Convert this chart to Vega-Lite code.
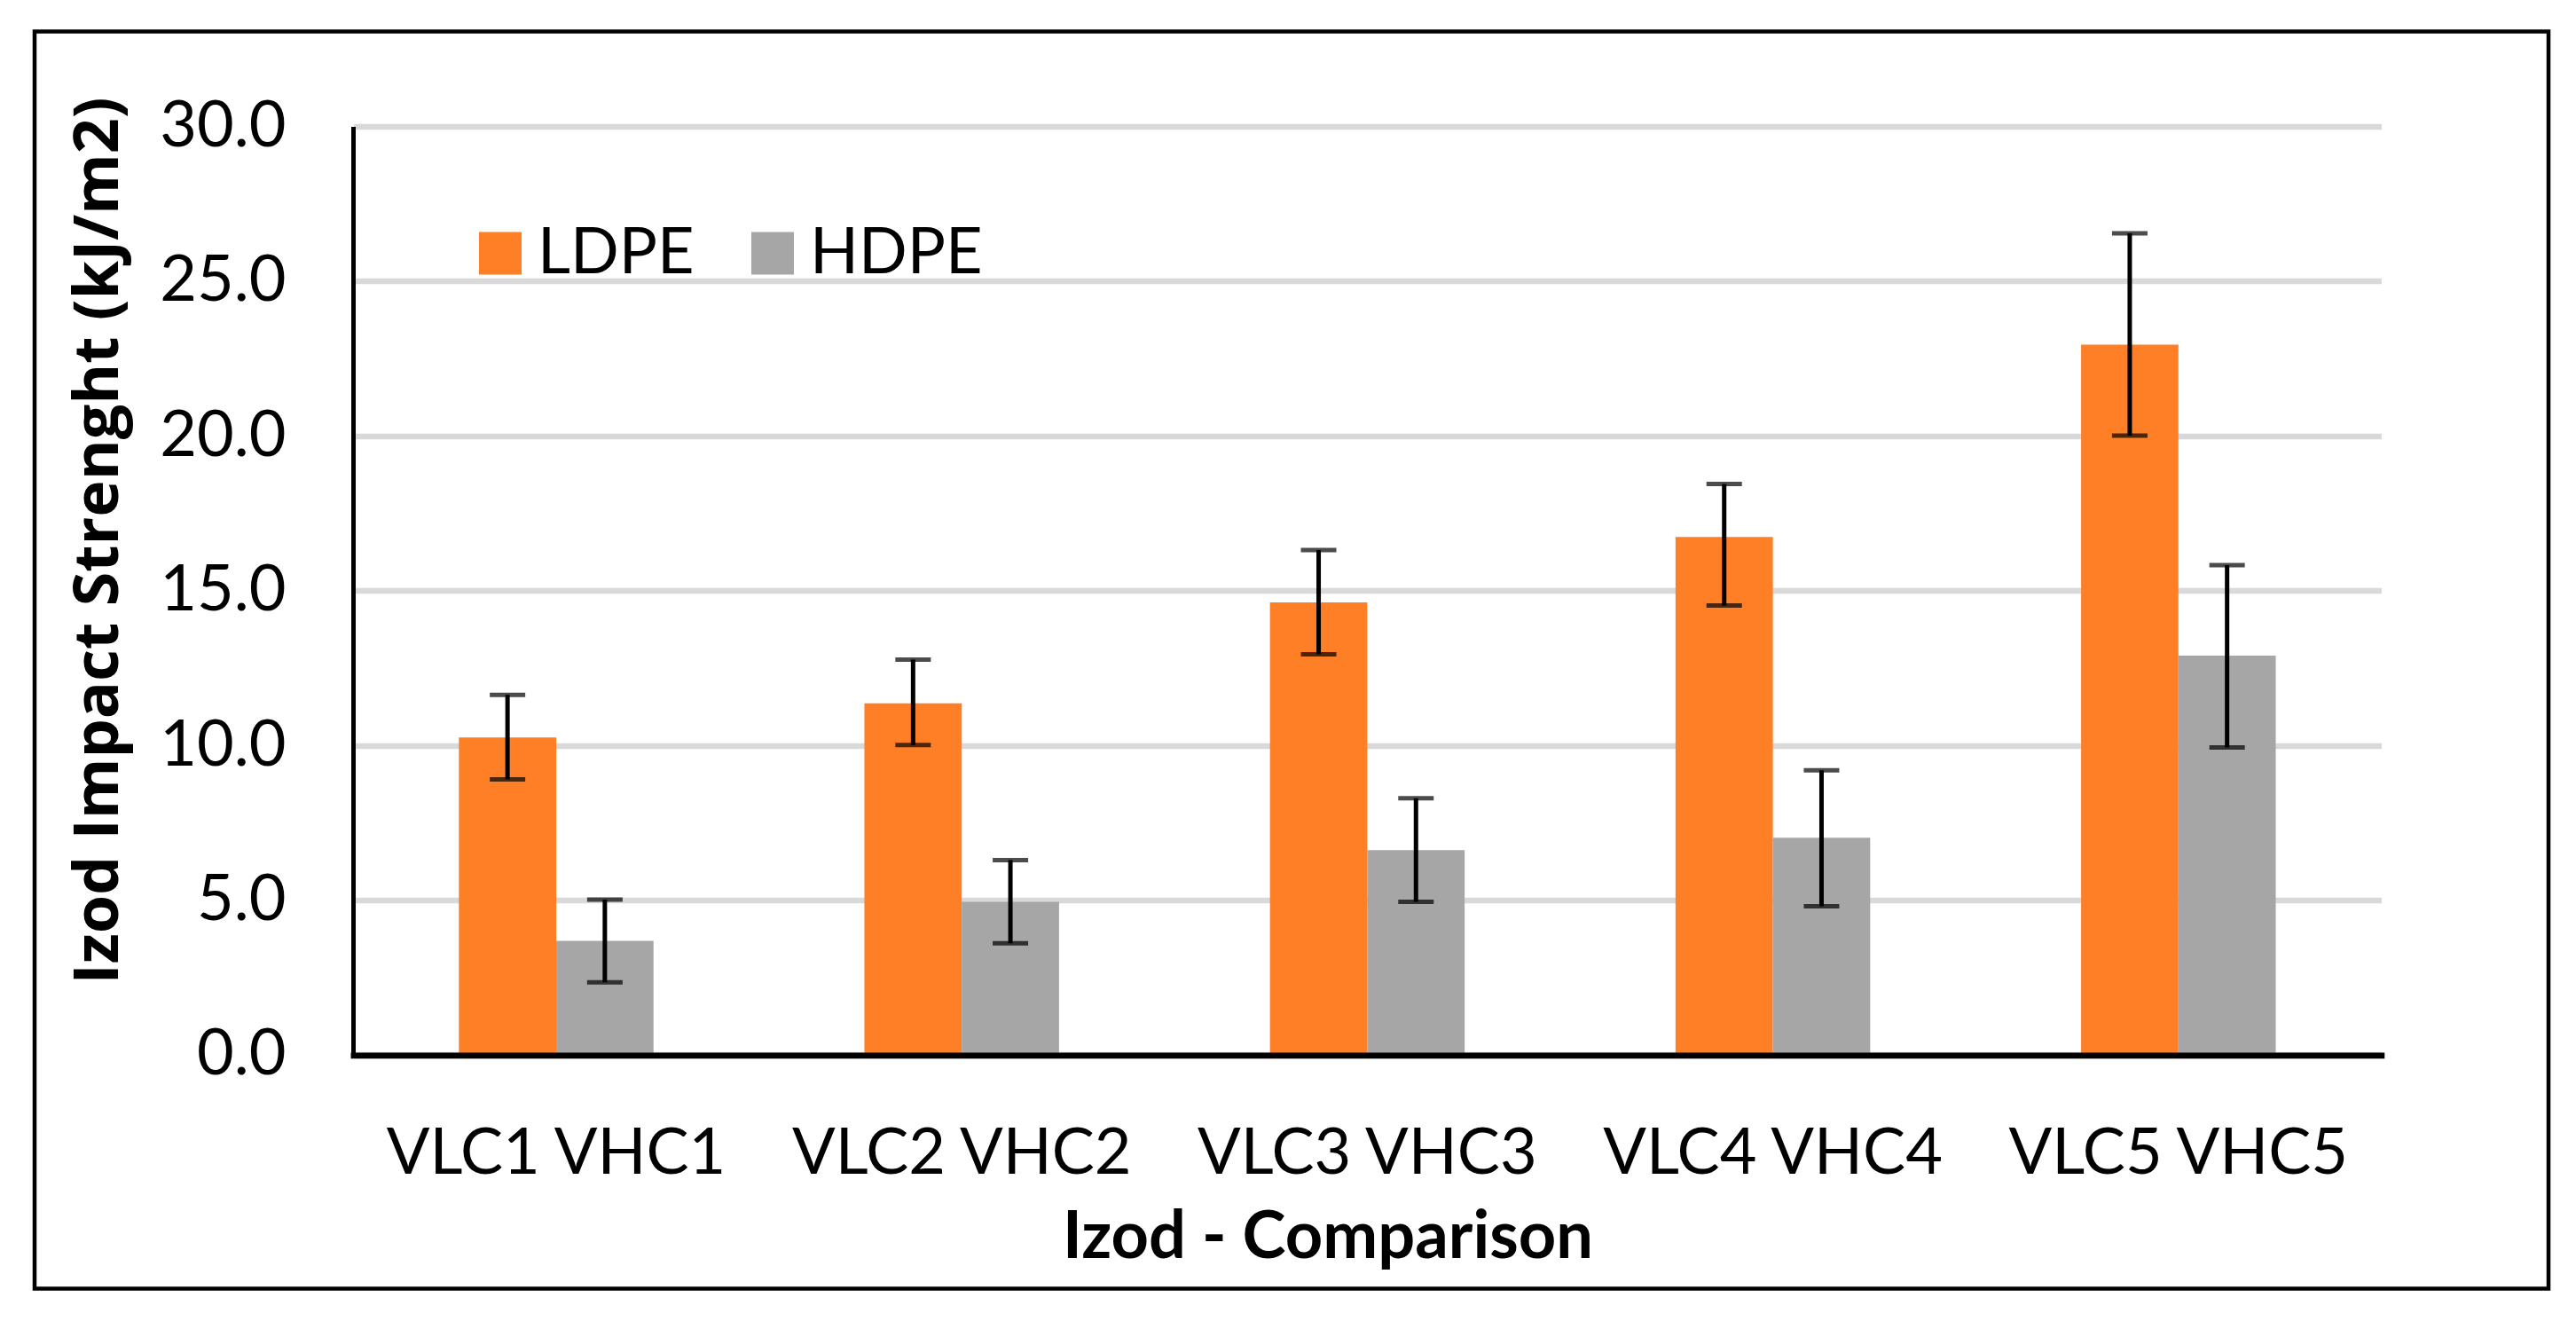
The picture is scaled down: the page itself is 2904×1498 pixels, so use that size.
{
  "$schema": "https://vega.github.io/schema/vega-lite/v6.json",
  "width": 2834,
  "height": 1417,
  "autosize": {"type": "none"},
  "padding": {"left": 39, "top": 35.5, "right": 31, "bottom": 45.5},
  "background": "white",
  "config": {"view": {"stroke": "black", "strokeWidth": 4.5}, "font": "Lato"},
  "data": {
    "values": [
      {"g": "VLC1 VHC1", "m": "LDPE", "v": 10.25, "lo": 8.90, "hi": 11.63},
      {"g": "VLC1 VHC1", "m": "HDPE", "v": 3.68, "lo": 2.34, "hi": 5.01},
      {"g": "VLC2 VHC2", "m": "LDPE", "v": 11.36, "lo": 10.01, "hi": 12.77},
      {"g": "VLC2 VHC2", "m": "HDPE", "v": 4.94, "lo": 3.60, "hi": 6.29},
      {"g": "VLC3 VHC3", "m": "LDPE", "v": 14.62, "lo": 12.94, "hi": 16.31},
      {"g": "VLC3 VHC3", "m": "HDPE", "v": 6.61, "lo": 4.94, "hi": 8.29},
      {"g": "VLC4 VHC4", "m": "LDPE", "v": 16.73, "lo": 14.52, "hi": 18.45},
      {"g": "VLC4 VHC4", "m": "HDPE", "v": 7.01, "lo": 4.80, "hi": 9.19},
      {"g": "VLC5 VHC5", "m": "LDPE", "v": 22.95, "lo": 20.01, "hi": 26.55},
      {"g": "VLC5 VHC5", "m": "HDPE", "v": 12.90, "lo": 9.93, "hi": 15.82}
    ]
  },
  "encoding": {
    "x": {
      "field": "g",
      "type": "nominal",
      "sort": ["VLC1 VHC1", "VLC2 VHC2", "VLC3 VHC3", "VLC4 VHC4", "VLC5 VHC5"],
      "scale": {"range": [359.4, 2645.4], "paddingInner": 0.52, "paddingOuter": 0.26},
      "axis": {
        "orient": "bottom",
        "offset": -263.2,
        "domainColor": "black",
        "domainWidth": 6.7,
        "domainCap": "square",
        "ticks": false,
        "tickSize": 0,
        "grid": false,
        "labelFont": "Lato",
        "labelFontSize": 72,
        "labelColor": "black",
        "labelPadding": 133,
        "labelBaseline": "alphabetic",
        "labelAngle": 0,
        "labelLimit": 0,
        "title": "Izod - Comparison",
        "titleFont": "Lato",
        "titleFontWeight": "bold",
        "titleFontSize": 74,
        "titleColor": "black",
        "titleX": 1457.5,
        "titleY": 228,
        "titleAlign": "center",
        "titleBaseline": "alphabetic",
        "zindex": 1
      }
    },
    "xOffset": {
      "field": "m",
      "type": "nominal",
      "sort": ["LDPE", "HDPE"],
      "scale": {"paddingInner": 0, "paddingOuter": 0}
    }
  },
  "layer": [
    {
      "mark": {"type": "bar"},
      "encoding": {
        "y": {
          "field": "v",
          "type": "quantitative",
          "scale": {"domain": [0, 30], "nice": false, "zero": true, "range": [1153.3, 107.1]},
          "axis": {
            "values": [0, 5, 10, 15, 20, 25, 30],
            "format": ".1f",
            "offset": -359,
            "domainColor": "black",
            "domainWidth": 5,
            "ticks": false,
            "tickSize": 0,
            "labelFont": "Lato",
            "labelFontSize": 72,
            "labelColor": "black",
            "labelPadding": 76,
            "grid": true,
            "gridColor": "#d9d9d9",
            "gridWidth": 6.5,
            "title": "Izod Impact Strenght (kJ/m2)",
            "titleFont": "Open Sans",
            "titleFontWeight": "bold",
            "titleFontSize": 70,
            "titleColor": "black",
            "titleX": -265.5,
            "titleY": 573.5,
            "titleAlign": "center",
            "titleBaseline": "alphabetic",
            "titleAngle": -90,
            "zindex": 0
          }
        },
        "color": {
          "field": "m",
          "type": "nominal",
          "sort": ["LDPE", "HDPE"],
          "scale": {"domain": ["LDPE", "HDPE"], "range": ["#ff7f27", "#a6a6a6"]},
          "legend": {
            "orient": "none",
            "legendX": 489,
            "legendY": 214,
            "direction": "horizontal",
            "title": null,
            "symbolType": "square",
            "symbolSize": 2304,
            "symbolStrokeWidth": 0,
            "labelFont": "Lato",
            "labelFontSize": 72,
            "labelColor": "black",
            "labelOffset": 6,
            "columnPadding": 52,
            "padding": 0,
            "labelLimit": 0
          }
        }
      }
    },
    {
      "mark": {"type": "rule", "color": "black", "strokeWidth": 5},
      "encoding": {
        "y": {"field": "lo", "type": "quantitative"},
        "y2": {"field": "hi"}
      }
    },
    {
      "mark": {"type": "tick", "color": "black", "size": 40, "thickness": 5},
      "encoding": {
        "y": {"field": "lo", "type": "quantitative"}
      }
    },
    {
      "mark": {"type": "tick", "color": "black", "size": 40, "thickness": 5},
      "encoding": {
        "y": {"field": "hi", "type": "quantitative"}
      }
    }
  ]
}
